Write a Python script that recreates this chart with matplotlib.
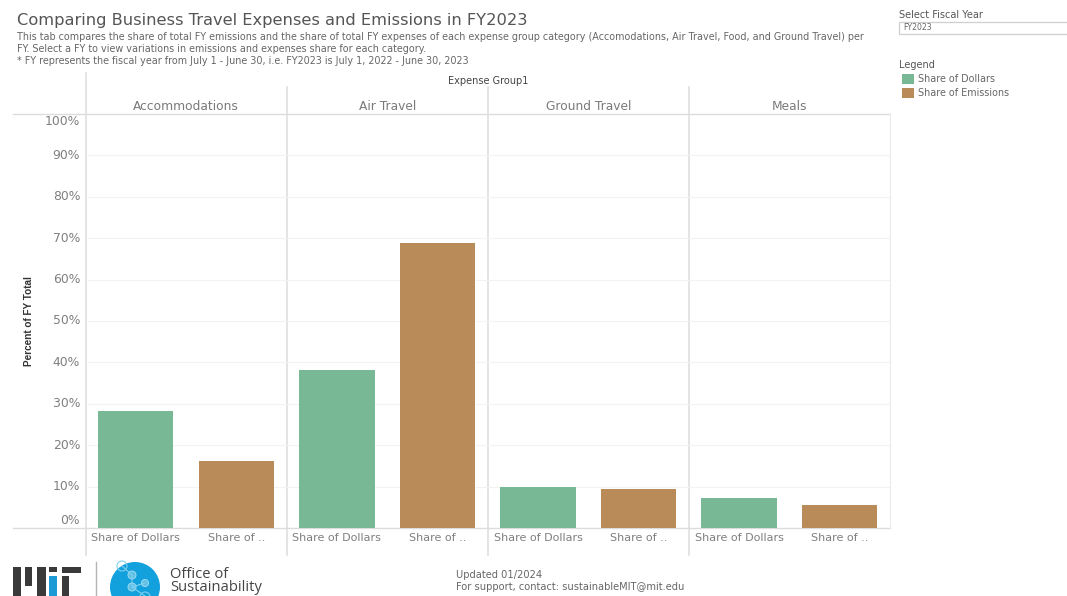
import numpy as np
import matplotlib
matplotlib.use('Agg')
import matplotlib.pyplot as plt
from matplotlib.patches import Rectangle, Circle

plt.rcParams['font.family'] = ['DejaVu Sans']

W, H = 1067, 596

groups = ['Accommodations', 'Air Travel', 'Ground Travel', 'Meals']
share_dollars = [28.3, 38.2, 9.9, 7.2]
share_emissions = [16.2, 68.8, 9.4, 5.6]
tick_vals = [10, 20, 30, 40, 50, 60, 70, 80, 90]
green = '#78b894'
brown = '#b98b58'
line_grey = '#dcdcdc'
label_grey = '#7f7f7f'

fig = plt.figure(figsize=(W / 100, H / 100), dpi=100, facecolor='white')

# page layer in pixel coords, everything that isn't the chart goes here
pg = fig.add_axes([0, 0, 1, 1])
pg.set_xlim(0, W)
pg.set_ylim(H, 0)
pg.axis('off')

# chart area
x0, x1, y_top, y_base = 85.5, 890, 114, 528
ax = fig.add_axes([x0 / W, 1 - y_base / H, (x1 - x0) / W, (y_base - y_top) / H])
ax.patch.set_alpha(0)
ax.set_xlim(0, len(groups))
ax.set_ylim(0, 100)
for s in ax.spines.values():
    s.set_visible(False)
ax.set_xticks([])
ax.set_yticks([])

for v in tick_vals:
    ax.axhline(v, color='#f3f3f3', lw=0.8, zorder=0)

xpos = np.arange(len(groups))
ax.bar(xpos + 0.25, share_dollars, width=0.375, color=green, zorder=2)
ax.bar(xpos + 0.75, share_emissions, width=0.375, color=brown, zorder=2)

# header and axis frame lines
pg.plot([13, 890], [y_top, y_top], color=line_grey, lw=1.0)
pg.plot([13, 890], [y_base, y_base], color=line_grey, lw=1.0)
pg.plot([890, 890], [y_top, y_base], color='#e8e8e8', lw=0.7)
pg.plot([x0, x0], [73, 555], color=line_grey, lw=1.1)
panel_w = (x1 - x0) / len(groups)
for i in range(1, len(groups)):
    xl = x0 + i * panel_w
    pg.plot([xl, xl], [87, 555], color=line_grey, lw=1.1)

# y labels, the end ones sit inside the frame
for v in tick_vals + [0, 100]:
    yp = y_base - v * (y_base - y_top) / 100
    if v == 0:
        yp = 520.5
    if v == 100:
        yp = 121.5
    pg.text(80, yp, f'{v}%', ha='right', va='center', fontsize=8.9, color=label_grey)

pg.text(29, 321, 'Percent of FY Total', rotation=90, ha='center', va='center',
        fontsize=7.2, color='#333333', fontweight='bold', family='Liberation Sans')

pg.text(488, 81, 'Expense Group1', ha='center', va='center', fontsize=7.0, color='#444444')

for i, g in enumerate(groups):
    xc = x0 + (i + 0.5) * panel_w
    pg.text(xc, 107, g, ha='center', va='center', fontsize=8.8, color='#7a7a7a')
    pg.text(xc - panel_w * 0.25, 538, 'Share of Dollars', ha='center', va='center',
            fontsize=8.0, color=label_grey)
    pg.text(xc + panel_w * 0.25, 538, 'Share of ..', ha='center', va='center',
            fontsize=8.0, color=label_grey)

# title block
pg.text(17, 21, 'Comparing Business Travel Expenses and Emissions in FY2023',
        ha='left', va='center', fontsize=11.7, color='#555555')
desc = ['This tab compares the share of total FY emissions and the share of total FY expenses of each expense group category (Accomodations, Air Travel, Food, and Ground Travel) per',
        'FY. Select a FY to view variations in emissions and expenses share for each category.',
        '* FY represents the fiscal year from July 1 - June 30, i.e. FY2023 is July 1, 2022 - June 30, 2023']
for yy, line in zip([37, 49.5, 61], desc):
    pg.text(17, yy, line, ha='left', va='center', fontsize=6.97, color='#666666')

# filter box and legend
pg.text(899, 14.5, 'Select Fiscal Year', ha='left', va='center', fontsize=7.0, color='#555555')
pg.add_patch(Rectangle((899, 22), 175, 11.5, fc='white', ec='#cfcfcf', lw=0.9))
pg.text(903, 28, 'FY2023', ha='left', va='center', fontsize=5.6, color='#666666')
pg.text(899, 65.5, 'Legend', ha='left', va='center', fontsize=7.0, color='#555555')
pg.add_patch(Rectangle((902, 74), 12, 10, fc=green, ec='none'))
pg.add_patch(Rectangle((902, 87.5), 12, 10, fc=brown, ec='none'))
pg.text(918, 79, 'Share of Dollars', ha='left', va='center', fontsize=6.9, color='#666666')
pg.text(918, 92.5, 'Share of Emissions', ha='left', va='center', fontsize=6.9, color='#666666')

# footer logo, built from plain shapes
dark = '#3a3a3a'
for bx, by, bw, bh, c in [(13, 567, 8, 29, dark), (25, 567, 7, 19, dark), (37, 567, 9, 29, dark),
                          (49, 567, 8, 5, dark), (49, 576, 8, 20, '#1c9ad6'),
                          (62, 567, 19, 6, dark), (62, 576, 7, 20, dark)]:
    pg.add_patch(Rectangle((bx, by), bw, bh, fc=c, ec='none'))
pg.plot([95.5, 95.5], [562, 596], color='#b5b5b5', lw=1)
pg.add_patch(Circle((135, 587), 25, fc='#12a1dc', ec='none'))
pg.plot([122, 132, 132, 145], [566, 575, 587, 583], color='#7fd0ee', lw=0.8)
pg.plot([132, 145], [587, 596], color='#7fd0ee', lw=0.8)
pg.add_patch(Circle((122, 566), 5, fc='none', ec='#7fd0ee', lw=0.8))
for cx, cy, r in [(132, 575, 4), (145, 583, 3.5), (132, 587, 4)]:
    pg.add_patch(Circle((cx, cy), r, fc='#5fc0e6', ec='#9adcf2', lw=0.7))
pg.add_patch(Circle((145, 597), 5, fc='none', ec='#7fd0ee', lw=0.8))
pg.text(170, 574, 'Office of', ha='left', va='center', fontsize=10.6, color='#444444',
        family=['Open Sans', 'DejaVu Sans'])
pg.text(170, 587.5, 'Sustainability', ha='left', va='center', fontsize=10.6, color='#444444',
        family=['Open Sans', 'DejaVu Sans'])

pg.text(456, 574.5, 'Updated 01/2024', ha='left', va='center', fontsize=7.15, color='#666666')
pg.text(456, 587.5, 'For support, contact: sustainableMIT@mit.edu', ha='left', va='center',
        fontsize=7.15, color='#666666')

fig.savefig('out.png', dpi=100)
